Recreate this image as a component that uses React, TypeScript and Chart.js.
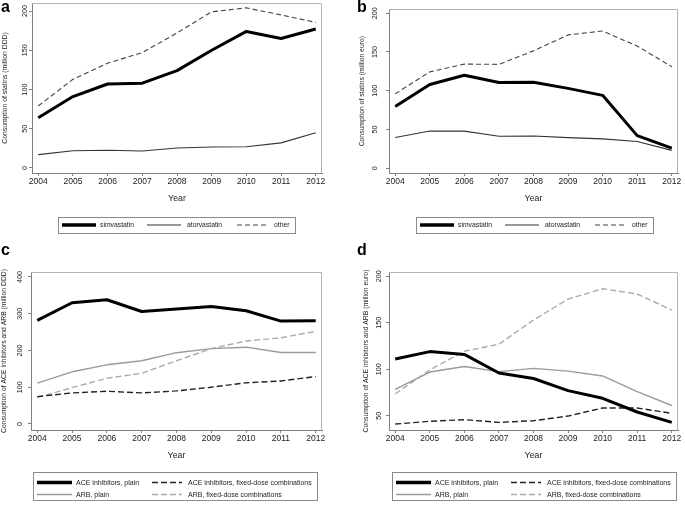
import React, { useEffect, useRef } from "react";
import { Chart, registerables } from "chart.js";

Chart.register(...registerables);

// ---------- data ----------
const years = [2004, 2005, 2006, 2007, 2008, 2009, 2010, 2011, 2012];

const statinLabels = ["simvastatin", "atorvastatin", "other"];
const raasLabels = [
  "ACE inhibitors, plain",
  "ACE inhibitors, fixed-dose combinations",
  "ARB, plain",
  "ARB, fixed-dose combinations",
];

// panel a: consumption of statins (million DDD)
const aSimvastatin = [64, 91, 107, 108, 124, 150, 174, 165, 177];
const aAtorvastatin = [17, 22, 22.5, 21.7, 25.5, 26.8, 27, 32, 45];
const aOther = [79, 113, 133.5, 147, 172, 199, 204, 195, 185.5];
const aYTicks = [0, 50, 100, 150, 200];

// panel b: consumption of statins (million euro)
const bSimvastatin = [79.5, 108, 120, 110.6, 111, 103, 94, 42, 26];
const bAtorvastatin = [39.5, 48, 47.8, 41.2, 41.6, 39.5, 37.8, 34.5, 23];
const bOther = [96, 124.3, 134.3, 134, 151.4, 172, 177, 157.6, 131];
const bYTicks = [0, 50, 100, 150, 200];

// panel c: ACE inhibitors and ARB (million DDD)
const cAcePlain = [282, 330, 338, 306, 313, 320, 308, 280, 281];
const cAceFixed = [74.5, 84.5, 89, 84.5, 90, 100, 112, 117, 129];
const cArbPlain = [111, 142, 161, 172, 194, 205, 209, 194.5, 194.5];
const cArbFixed = [72, 99, 124.5, 138, 172, 205, 226, 234.5, 252];
const cYTicks = [0, 100, 200, 300, 400];

// panel d: ACE inhibitors and ARB (million euro)
const dAcePlain = [111, 119, 116, 96, 90, 77, 68.7, 54, 42.8];
const dAceFixed = [41, 44, 45.7, 42.8, 44.6, 49.6, 58.3, 58.3, 52.5];
const dArbPlain = [78.4, 97, 103, 97.5, 101, 98, 92.8, 76, 61];
const dArbFixed = [73.4, 99.3, 119.4, 127, 153, 175.5, 186.7, 181, 163.7];
const dYTicks = [50, 100, 150, 200];

// ---------- styles ----------
const SANS = "'Liberation Sans', Arial, Helvetica, sans-serif";
const AXIS = "#808080";
const FRAME = "#b4b4b4";
const TEXT = "#222";

type Style = { color: string; width: number; dash: number[]; legendWidth?: number };
const statinStyles: Style[] = [
  { color: "#000", width: 3, dash: [], legendWidth: 3.5 },
  { color: "#333", width: 1.1, dash: [] },
  { color: "#444", width: 1.1, dash: [5, 3] },
];
const raasStyles: Style[] = [
  { color: "#000", width: 3, dash: [], legendWidth: 3.5 },
  { color: "#222", width: 1.4, dash: [6, 3] },
  { color: "#9a9a9a", width: 1.4, dash: [] },
  { color: "#ababab", width: 1.4, dash: [6, 3] },
];

const X_MIN = 2003.82;
const X_MAX = 2012.18;

type LegendItemPos = { x0: number; x1: number; tx: number; y: number };
type PanelCfg = {
  letter: string;
  left: number;
  top: number;
  w: number;
  h: number;
  area: { l: number; r: number; t: number; b: number };
  xAxisH: number;
  yMin: number;
  yMax: number;
  yTicks: number[];
  yTitle: string;
  yTitleCenter: number;
  yTickCenter: number;
  letterX: number;
  letterY: number;
  series: number[][];
  labels: string[];
  styles: Style[];
  legendBox: { x: number; y: number; w: number; h: number };
  legendItems: LegendItemPos[];
  legendFont: number;
};

const statinLegend = (bx: number): LegendItemPos[] => [
  { x0: bx + 4, x1: bx + 38, tx: bx + 42, y: 225 },
  { x0: bx + 89, x1: bx + 123, tx: bx + 129, y: 225 },
  { x0: bx + 179, x1: bx + 211, tx: bx + 216, y: 225 },
];
const raasLegend = (bx: number): LegendItemPos[] => [
  { x0: bx + 4, x1: bx + 39, tx: bx + 43, y: 232.5 },
  { x0: bx + 119, x1: bx + 149, tx: bx + 155, y: 232.5 },
  { x0: bx + 4, x1: bx + 39, tx: bx + 43, y: 244.5 },
  { x0: bx + 119, x1: bx + 149, tx: bx + 155, y: 244.5 },
];

const panels: PanelCfg[] = [
  {
    letter: "a", left: 0, top: 0, w: 340, h: 250,
    area: { l: 32, r: 322, t: 3, b: 173 }, xAxisH: 32,
    yMin: -6.4, yMax: 210.2, yTicks: aYTicks,
    yTitle: "Consumption of statins (million DDD)", yTitleCenter: 5, yTickCenter: 25,
    letterX: 1, letterY: -1.5,
    series: [aSimvastatin, aAtorvastatin, aOther], labels: statinLabels, styles: statinStyles,
    legendBox: { x: 58, y: 217, w: 237, h: 16 }, legendItems: statinLegend(58), legendFont: 6.8,
  },
  {
    letter: "b", left: 340, top: 0, w: 345, h: 250,
    area: { l: 49, r: 338, t: 3, b: 173 }, xAxisH: 32,
    yMin: -6.2, yMax: 205, yTicks: bYTicks,
    yTitle: "Consumption of statins (million euro)", yTitleCenter: 22, yTickCenter: 35,
    letterX: 17, letterY: -1.5,
    series: [bSimvastatin, bAtorvastatin, bOther], labels: statinLabels, styles: statinStyles,
    legendBox: { x: 76, y: 217, w: 237, h: 16 }, legendItems: statinLegend(76), legendFont: 6.8,
  },
  {
    letter: "c", left: 0, top: 250, w: 340, h: 255,
    area: { l: 31, r: 322, t: 22, b: 180 }, xAxisH: 32,
    yMin: -16.4, yMax: 413.6, yTicks: cYTicks,
    yTitle: "Consumption of ACE inhibitors and ARB (million DDD)", yTitleCenter: 4, yTickCenter: 20.5,
    letterX: 1, letterY: -8,
    series: [cAcePlain, cAceFixed, cArbPlain, cArbFixed], labels: raasLabels, styles: raasStyles,
    legendBox: { x: 33, y: 222, w: 284, h: 28 }, legendItems: raasLegend(33), legendFont: 7,
  },
  {
    letter: "d", left: 340, top: 250, w: 345, h: 255,
    area: { l: 49, r: 338, t: 22, b: 180 }, xAxisH: 32,
    yMin: 34.6, yMax: 204.7, yTicks: dYTicks,
    yTitle: "Consumption of ACE inhibitors and ARB (million euro)", yTitleCenter: 26, yTickCenter: 39.5,
    letterX: 17, letterY: -8,
    series: [dAcePlain, dAceFixed, dArbPlain, dArbFixed], labels: raasLabels, styles: raasStyles,
    legendBox: { x: 52, y: 222, w: 284, h: 28 }, legendItems: raasLegend(52), legendFont: 7,
  },
];

function measure(font: string, text: string): number {
  const c = document.createElement("canvas").getContext("2d");
  if (!c) return text.length * 4;
  c.font = font;
  return c.measureText(text).width;
}

const Y_TICK_SIZE = 7.2;
const Y_TITLE_SIZE = 6.8;
const X_TICK_SIZE = 8.5;
const X_TITLE_SIZE = 8.8;

function Panel({ cfg }: { cfg: PanelCfg }) {
  const ref = useRef<HTMLCanvasElement | null>(null);

  useEffect(() => {
    const canvas = ref.current;
    if (!canvas) return;
    const { area, w, h } = cfg;
    const widest = Math.max(
      ...cfg.yTicks.map((v) => measure(`${Y_TICK_SIZE}px ${SANS}`, String(v)))
    );
    const tickLen = 3;
    const yTickPad = area.l - tickLen - cfg.yTickCenter - widest / 2;
    const titleLH = Y_TITLE_SIZE * 1.2;
    const yTitlePadTop = Math.max(cfg.yTitleCenter - titleLH / 2, 0);
    const xTitleLH = X_TITLE_SIZE * 1.2;

    const framePlugin = {
      id: "frame" + cfg.letter,
      beforeDatasetsDraw(chart: any) {
        const { ctx, chartArea } = chart;
        const { left, right, top, bottom } = chartArea;
        ctx.save();
        ctx.strokeStyle = FRAME;
        ctx.lineWidth = 1;
        ctx.beginPath();
        ctx.moveTo(Math.round(left), Math.round(top) + 0.5);
        ctx.lineTo(Math.round(right) - 0.5, Math.round(top) + 0.5);
        ctx.lineTo(Math.round(right) - 0.5, Math.round(bottom));
        ctx.stroke();
        ctx.restore();
      },
    };

    const legendPlugin = {
      id: "boxlegend" + cfg.letter,
      afterDraw(chart: any) {
        const ctx: CanvasRenderingContext2D = chart.ctx;
        const b = cfg.legendBox;
        ctx.save();
        ctx.fillStyle = "#fff";
        ctx.fillRect(b.x, b.y, b.w, b.h);
        ctx.strokeStyle = "#8a8a8a";
        ctx.lineWidth = 1;
        ctx.strokeRect(b.x + 0.5, b.y + 0.5, b.w, b.h);
        ctx.font = `${cfg.legendFont}px ${SANS}`;
        ctx.textBaseline = "middle";
        ctx.textAlign = "left";
        cfg.labels.forEach((label, i) => {
          const p = cfg.legendItems[i];
          const st = cfg.styles[i];
          ctx.beginPath();
          ctx.strokeStyle = st.color;
          ctx.lineWidth = st.legendWidth ?? st.width;
          ctx.setLineDash(st.dash);
          ctx.moveTo(p.x0, p.y);
          ctx.lineTo(p.x1, p.y);
          ctx.stroke();
          ctx.setLineDash([]);
          ctx.fillStyle = TEXT;
          ctx.fillText(label, p.tx, p.y + 0.5);
        });
        ctx.restore();
      },
    };

    const chart = new Chart(canvas, {
      type: "line",
      data: {
        datasets: cfg.series.map((vals, i) => ({
          label: cfg.labels[i],
          data: years.map((x, j) => ({ x, y: vals[j] })),
          borderColor: cfg.styles[i].color,
          backgroundColor: cfg.styles[i].color,
          borderWidth: cfg.styles[i].width,
          borderDash: cfg.styles[i].dash,
          borderJoinStyle: "round" as const,
          pointRadius: 0,
          tension: 0,
          fill: false,
        })),
      },
      options: {
        responsive: false,
        animation: false,
        devicePixelRatio: 1,
        events: [],
        layout: {
          padding: { left: 0, top: area.t, right: w - area.r, bottom: h - area.b - cfg.xAxisH },
        },
        plugins: {
          legend: { display: false },
          tooltip: { enabled: false },
          title: { display: false },
        },
        scales: {
          x: {
            type: "linear",
            min: X_MIN,
            max: X_MAX,
            afterBuildTicks: (s: any) => {
              s.ticks = years.map((v) => ({ value: v }));
            },
            afterFit: (s: any) => {
              s.height = cfg.xAxisH;
            },
            grid: { drawOnChartArea: false, drawTicks: true, tickLength: tickLen, color: AXIS, lineWidth: 1 },
            border: { display: true, color: AXIS, width: 1 },
            ticks: {
              font: { family: SANS, size: X_TICK_SIZE },
              color: TEXT,
              padding: 1,
              autoSkip: false,
              maxRotation: 0,
              minRotation: 0,
              callback: (v: any) => String(v),
            },
            title: {
              display: true,
              text: "Year",
              font: { family: SANS, size: X_TITLE_SIZE },
              color: TEXT,
              padding: { top: 0, bottom: 6 - xTitleLH / 2 + 0.5 },
            },
          },
          y: {
            type: "linear",
            min: cfg.yMin,
            max: cfg.yMax,
            afterBuildTicks: (s: any) => {
              s.ticks = cfg.yTicks.map((v) => ({ value: v }));
            },
            afterFit: (s: any) => {
              s.width = area.l;
            },
            grid: { drawOnChartArea: false, drawTicks: true, tickLength: tickLen, color: AXIS, lineWidth: 1 },
            border: { display: true, color: AXIS, width: 1 },
            ticks: {
              font: { family: SANS, size: Y_TICK_SIZE },
              color: TEXT,
              padding: yTickPad,
              minRotation: 90,
              maxRotation: 90,
              crossAlign: "center",
              autoSkip: false,
              callback: (v: any) => String(v),
            },
            title: {
              display: true,
              text: cfg.yTitle,
              font: { family: SANS, size: Y_TITLE_SIZE },
              color: TEXT,
              padding: { top: yTitlePadTop, bottom: 0 },
            },
          },
        },
      },
      plugins: [framePlugin, legendPlugin],
    } as any);

    return () => chart.destroy();
  }, [cfg]);

  return (
    <div style={{ position: "absolute", left: cfg.left, top: cfg.top, width: cfg.w, height: cfg.h }}>
      <canvas ref={ref} width={cfg.w} height={cfg.h} style={{ display: "block", width: cfg.w, height: cfg.h }} />
      <div
        style={{
          position: "absolute",
          left: cfg.letterX,
          top: cfg.letterY,
          font: `bold 16px ${SANS}`,
          lineHeight: "16px",
          color: "#000",
        }}
      >
        {cfg.letter}
      </div>
    </div>
  );
}

export default function App() {
  return (
    <div
      style={{
        position: "absolute",
        left: 0,
        top: 0,
        width: 685,
        height: 505,
        background: "#fff",
        overflow: "hidden",
      }}
    >
      {panels.map((p) => (
        <Panel key={p.letter} cfg={p} />
      ))}
    </div>
  );
}
